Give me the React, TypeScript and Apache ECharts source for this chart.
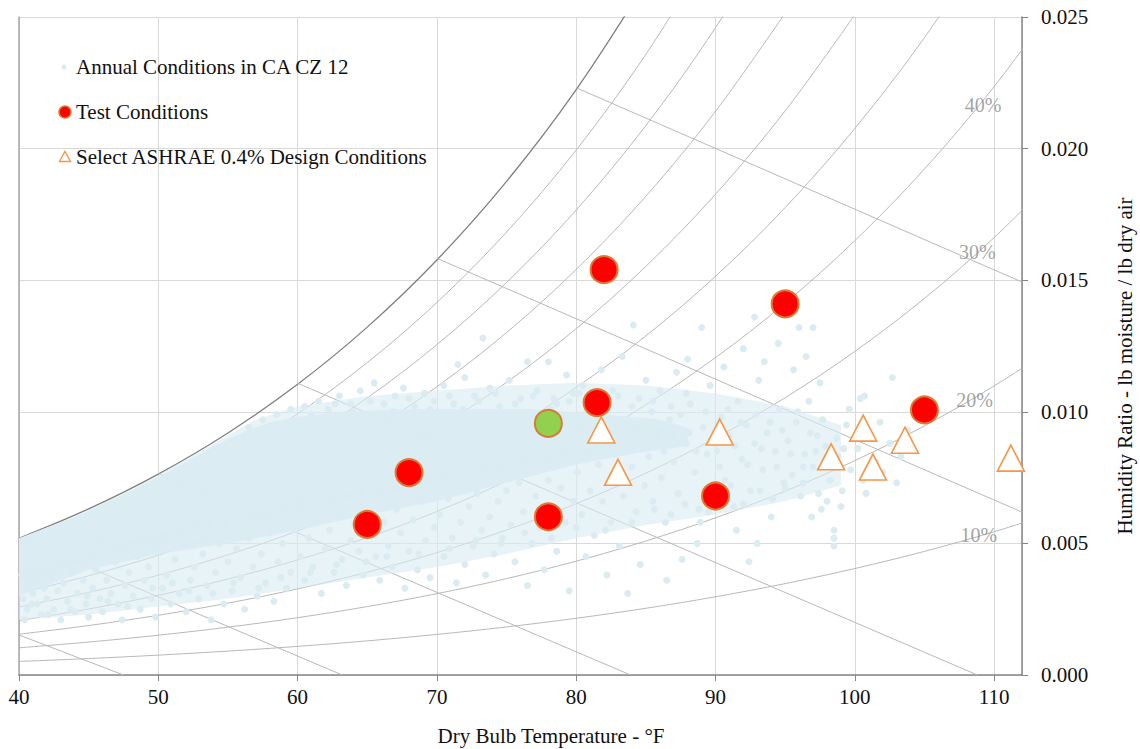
import React, { useEffect, useRef } from "react";
import * as echarts from "echarts";

// ---------- data ----------
// Saturation vapour pressure of water (psia) at standard temperatures (°F)
const TABLE_TEMPS = [40, 45, 50, 55, 60, 65, 70, 75, 80, 85, 90, 95, 100, 105, 110, 115];
const TABLE_PSAT = [0.12173, 0.14756, 0.17813, 0.21413, 0.25639, 0.30579, 0.36334, 0.43016, 0.50744, 0.59652, 0.69882, 0.81597, 0.94959, 1.1016, 1.2748, 1.4709];
const P_ATM = 14.696;
const RH_LEVELS = [10, 20, 30, 40, 50, 60, 70, 80, 90, 100];

const RH_LABEL_TEXT = ["40%", "30%", "20%", "10%"];
const RH_LABEL_POS = [[109.2, 0.02166], [108.8, 0.01607], [108.6, 0.01045], [108.9, 0.00532]];

// Wet-bulb lines (start on saturation curve, end)
const WB_LINES = [
  [[40, 0.00152], [47.5, 0]],
  [[40, 0.005216], [63.2, 0]],
  [[50, 0.007658], [83.9, 0]],
  [[60, 0.011087], [108.8, 0]],
  [[70, 0.015832], [112, 0.00619]],
  [[80, 0.022312], [112, 0.01493]],
];

// Speckled envelope of the annual hourly conditions (outline)
const ANNUAL_HALO = [
  [40, 0.0052], [42, 0.0056], [44, 0.006], [46, 0.0065], [48, 0.007], [50, 0.0076], [52, 0.0082], [54, 0.0088], [56, 0.0094], [57, 0.0097],
  [60, 0.0102], [65, 0.0106], [70, 0.0108], [75, 0.011], [80, 0.0111], [85, 0.011], [90, 0.0107], [95, 0.0102], [99, 0.0095],
  [99, 0.0072], [95, 0.0066], [90, 0.0061], [85, 0.0057], [80, 0.0052], [75, 0.0046], [70, 0.0041], [65, 0.0037],
  [60, 0.0033], [55, 0.0029], [50, 0.0026], [45, 0.0023], [40, 0.0021],
];
// Dense core of the annual hourly conditions (outline)
const ANNUAL_CORE = [
  [40, 0.0052], [42, 0.0056], [44, 0.006], [46, 0.0065], [48, 0.007], [50, 0.0075], [52, 0.0081], [54, 0.0087], [56, 0.0092], [58, 0.0096],
  [60, 0.0098], [63, 0.01], [67, 0.0101], [72, 0.0101], [77, 0.0101], [82, 0.0099], [86, 0.0097], [88, 0.0094],
  [88, 0.0087], [84, 0.0084], [80, 0.008], [75, 0.0073], [70, 0.0066], [65, 0.0061], [60, 0.0055], [55, 0.005],
  [50, 0.0046], [45, 0.004], [42, 0.0034], [40, 0.003],
];

// Annual conditions in CA CZ 12 (individual hours outside the core)
const ANNUAL_POINTS = [
  [40.2,0.0038],[40.5,0.0034],[40.3,0.0029],[40.6,0.0025],[40.4,0.0021],[41.0,0.0031],[41.3,0.0027],[41.1,0.0036],[41.6,0.0023],[41.8,0.0033],
  [42.0,0.0029],[42.3,0.0037],[42.5,0.0025],[42.8,0.0032],[43.0,0.0021],[43.2,0.0035],[43.5,0.0028],[43.8,0.0039],[44.0,0.0024],[44.2,0.0031],
  [44.6,0.0036],[44.8,0.0027],[45.0,0.0022],
  [45.3,0.0033],[45.5,0.0040],[45.8,0.0029],[46.0,0.0024],[46.3,0.0036],[46.6,0.0031],[46.9,0.0043],[47.1,0.0027],[47.4,0.0021],[47.6,0.0034],
  [47.9,0.0039],[48.2,0.0030],[48.5,0.0045],[48.7,0.0025],[49.0,0.0036],[49.3,0.0041],[49.5,0.0029],[49.8,0.0022],[50.0,0.0047],
  [50.3,0.0033],[50.6,0.0038],[50.9,0.0027],[51.2,0.0044],[51.5,0.0031],[51.8,0.0049],[52.0,0.0024],[52.3,0.0036],[52.6,0.0041],[52.9,0.0029],
  [53.2,0.0046],[53.5,0.0034],[53.8,0.0021],[54.1,0.0039],[54.4,0.0050],[54.7,0.0027],[55.0,0.0043],
  [55.3,0.0032],[55.6,0.0048],[55.9,0.0037],[56.2,0.0025],[56.5,0.0052],[56.8,0.0041],[57.1,0.0030],[57.4,0.0046],[57.7,0.0035],[58.0,0.0054],
  [58.3,0.0028],[58.6,0.0043],[58.9,0.0050],[59.2,0.0033],[59.5,0.0039],[59.8,0.0055],
  [56.5,0.0094],[57.5,0.0097],[58.5,0.0099],[59.5,0.0101],
  [60.2,0.0045],[60.5,0.0036],[60.8,0.0052],[61.1,0.0041],[61.4,0.0058],[61.7,0.0031],[62.0,0.0048],[62.3,0.0055],[62.6,0.0039],[62.9,0.0060],
  [63.2,0.0044],[63.5,0.0034],[63.8,0.0051],[64.1,0.0057],[64.4,0.0047],[64.7,0.0038],
  [60.5,0.0102],[61.5,0.0104],[62.2,0.0101],[63.0,0.0106],[63.8,0.0103],[64.5,0.0108],
  [65.0,0.0062],[65.3,0.0053],[65.6,0.0045],[65.9,0.0036],[66.2,0.0058],[66.5,0.0049],[66.8,0.0041],[67.1,0.0063],[67.4,0.0054],[67.7,0.0033],
  [68.0,0.0047],[68.3,0.0059],[68.6,0.0040],[68.9,0.0066],[69.2,0.0051],[69.5,0.0037],[69.8,0.0056],
  [65.5,0.0111],[66.2,0.0103],[67.0,0.0106],[67.6,0.0109],[68.4,0.0102],[69.1,0.0107],[69.8,0.0104],
  [70.2,0.0061],[70.5,0.0045],[70.8,0.0067],[71.1,0.0052],[71.4,0.0035],[71.7,0.0058],[72.0,0.0042],[72.3,0.0064],[72.6,0.0049],[72.9,0.0069],
  [73.2,0.0055],[73.5,0.0038],[73.8,0.0060],[74.1,0.0046],[74.4,0.0066],[74.7,0.0052],
  [70.5,0.0110],[71.2,0.0103],[72.0,0.0113],[72.7,0.0106],[73.3,0.0128],[73.8,0.0109],[74.5,0.0102],[71.5,0.0118],
  [75.0,0.0070],[75.3,0.0057],[75.6,0.0043],[75.9,0.0073],[76.2,0.0062],[76.5,0.0034],[76.8,0.0050],[77.1,0.0068],[77.4,0.0056],[77.7,0.0040],
  [78.0,0.0074],[78.3,0.0063],[78.6,0.0047],[78.9,0.0071],[79.2,0.0058],[79.5,0.0032],[79.8,0.0066],
  [75.2,0.0112],[76.0,0.0105],[76.5,0.0119],[77.2,0.0108],[78.0,0.0119],[78.6,0.0103],[79.3,0.0114],[79.8,0.0107],
  [80.1,0.0077],[80.4,0.0061],[80.7,0.0045],[81.0,0.0070],[81.3,0.0053],[81.6,0.0080],[81.9,0.0066],[82.2,0.0038],[82.5,0.0058],[82.8,0.0074],
  [83.1,0.0049],[83.4,0.0068],[83.7,0.0031],[84.0,0.0079],[84.3,0.0062],[84.6,0.0042],[84.9,0.0072],
  [80.5,0.0110],[81.0,0.0104],[81.8,0.0116],[82.6,0.0108],[83.3,0.0121],[84.1,0.0133],[84.5,0.0105],[85.0,0.0112],
  [85.2,0.0083],[85.5,0.0066],[85.8,0.0090],[86.1,0.0075],[86.4,0.0058],[86.7,0.0097],[87.0,0.0081],[87.3,0.0069],[87.6,0.0044],[87.9,0.0088],
  [88.2,0.0103],[88.5,0.0077],[88.8,0.0063],[89.1,0.0094],[89.4,0.0084],[89.7,0.0071],[86.0,0.0108],[87.2,0.0115],[88.0,0.0120],[89.0,0.0132],
  [89.6,0.0110],[86.5,0.0036],[88.7,0.0050],
  [90.1,0.0085],[90.4,0.0098],[90.7,0.0074],[91.0,0.0091],[91.3,0.0064],[91.6,0.0104],[91.9,0.0082],[92.2,0.0095],[92.5,0.0070],[92.8,0.0088],
  [93.1,0.0112],[93.4,0.0078],[93.7,0.0092],[94.0,0.0060],[94.3,0.0085],[94.6,0.0101],[94.9,0.0073],[90.6,0.0117],[92.0,0.0124],[93.5,0.0119],
  [94.5,0.0126],[91.5,0.0055],[93.0,0.0050],[92.4,0.0043],[92.8,0.0136],
  [95.2,0.0089],[95.5,0.0076],[95.8,0.0096],[96.1,0.0068],[96.4,0.0084],[96.7,0.0104],[97.0,0.0079],[97.3,0.0091],[97.6,0.0063],[97.9,0.0087],
  [98.2,0.0074],[98.5,0.0052],[98.5,0.0049],[98.5,0.0055],[98.8,0.0083],[99.1,0.0070],[99.4,0.0095],[99.7,0.0078],[95.6,0.0116],[96.5,0.0121],
  [97.5,0.0111],[96.0,0.0132],[97.0,0.0132],[96.9,0.0060],[99.0,0.0064],
  [100.2,0.0086],[100.6,0.0074],[101.0,0.0091],[101.5,0.0081],[102.0,0.0077],[102.5,0.0088],[103.0,0.0073],[103.3,0.0083],[100.8,0.0069],[101.8,0.0096],
  [103.8,0.0093],[100.4,0.0105],[102.7,0.0113],[100.7,0.0106],
  [40.8,0.0040],[41.5,0.0039],[42.6,0.0041],[43.3,0.0043],[44.3,0.0044],[45.1,0.0046],[46.1,0.0047],[47.2,0.0049],[48.0,0.0050],[49.1,0.0052],
  [50.5,0.0053],[51.4,0.0055],[52.5,0.0056],[53.6,0.0057],[54.8,0.0058],[55.8,0.0059],[57.0,0.0061],[58.1,0.0062],[59.1,0.0063],[60.3,0.0064],
  [61.5,0.0065],[62.4,0.0066],[63.6,0.0068],[64.6,0.0069],[65.8,0.0070],[67.0,0.0071],[68.2,0.0072],[69.4,0.0074],[70.6,0.0075],[72.0,0.0077],
  [73.4,0.0078],[74.8,0.0080],[76.4,0.0081],[77.8,0.0083],[79.3,0.0084],[80.8,0.0085],[82.4,0.0087],
  [78.4,0.0105],[79.0,0.0098],[80.2,0.0093],[80.9,0.0089],[81.4,0.0096],[82.0,0.0091],[82.9,0.0095],[83.5,0.0089],[84.2,0.0094],[84.8,0.0086],
  [85.4,0.0100],[85.9,0.0093],[86.3,0.0085],[86.9,0.0091],[87.5,0.0099],[88.1,0.0092],[88.6,0.0085],[89.3,0.0100],[89.8,0.0089],[90.3,0.0079],
  [90.9,0.0101],[91.4,0.0087],[91.8,0.0096],[92.3,0.0080],[92.9,0.0099],[93.3,0.0086],[93.9,0.0096],[94.4,0.0079],[94.8,0.0093],[95.4,0.0084],
  [95.9,0.0100],[96.3,0.0079],[96.8,0.0092],[97.2,0.0085],[97.7,0.0097],[98.1,0.0081],[98.7,0.0090],[99.2,0.0086],[99.6,0.0101],[90.2,0.0068],
  [91.1,0.0072],[92.0,0.0065],[93.2,0.0070],[94.1,0.0067],[95.0,0.0071],[96.3,0.0073],[97.4,0.0069],[98.0,0.0066],[85.6,0.0063],[86.8,0.0061],
  [87.8,0.0065],[88.9,0.0058],[89.5,0.0062],
  [61.0,0.0099],[62.7,0.0103],[64.0,0.0100],[65.2,0.0104],[66.8,0.0100],[68.0,0.0105],[69.5,0.0101],[70.9,0.0106],[71.9,0.0101],[73.0,0.0104],
  [74.2,0.0107],[75.6,0.0103],[76.9,0.0106],[78.2,0.0101],[79.5,0.0104],[80.2,0.0107],[82.0,0.0103],[83.0,0.0106],[84.0,0.0102],[85.5,0.0104],
  [86.8,0.0102],[87.9,0.0107],
  [40.9,0.0027],[42.1,0.0023],[43.7,0.0025],[44.9,0.0030],[46.4,0.0028],[47.8,0.0026],[49.6,0.0033],[51.0,0.0035],[52.2,0.0032],[53.9,0.0031],
  [55.4,0.0035],[57.2,0.0033],[58.8,0.0037],[60.9,0.0039],[62.8,0.0042],[64.9,0.0043],[66.4,0.0045],[68.7,0.0046],[70.9,0.0048],[72.8,0.0051],
  [74.6,0.0050],[76.3,0.0054],[78.2,0.0052],[80.0,0.0056],[82.1,0.0055],[84.0,0.0058],
];

const TEST_CONDITIONS = [[65, 0.00572], [68, 0.00769], [78, 0.00601], [81.5, 0.01035], [82, 0.0154], [90, 0.0068], [95, 0.0141], [105, 0.01007], [78, 0.00956]];
const TEST_HIGHLIGHT_INDEX = 8;
const ASHRAE_DESIGN = [[81.8, 0.00931], [83.0, 0.0077], [90.3, 0.00923], [98.3, 0.00829], [100.6, 0.00938], [101.3, 0.0079], [103.6, 0.00892], [111.2, 0.00824]];

const LEGEND_LABELS = ["Annual Conditions in CA CZ 12", "Test Conditions", "Select ASHRAE 0.4% Design Conditions"];
const X_TITLE = "Dry Bulb Temperature - °F";
const Y_TITLE = "Humidity Ratio - lb moisture / lb dry air";

// ---------- styles ----------
const FONT = "Liberation Serif";
const DOT = "#daecf2";
const ORANGE = "#f79646";
const RED_EDGE = "#d97a35";

function rhCurve(rh: number) {
  const pts: number[][] = [];
  for (let i = 0; i < TABLE_TEMPS.length; i++) {
    const pw = (rh / 100) * TABLE_PSAT[i];
    const w = (0.622 * pw) / (P_ATM - pw);
    pts.push([TABLE_TEMPS[i], w]);
    if (w > 0.025) break;
  }
  return pts;
}

export default function App() {
  const ref = useRef<HTMLDivElement>(null);
  useEffect(() => {
    if (!ref.current) return;
    const chart = echarts.init(ref.current, null, { renderer: "svg" });

    const rhSeries = RH_LEVELS.map((rh) => ({
      type: "line",
      data: rhCurve(rh),
      smooth: 0.35,
      symbol: "none",
      silent: true,
      clip: true,
      lineStyle: rh === 100 ? { color: "#7f7f7f", width: 1.3 } : { color: "#b8b8b8", width: 1 },
      z: 2,
    }));
    const wbSeries = WB_LINES.map((seg) => ({
      type: "line",
      data: seg,
      symbol: "none",
      silent: true,
      clip: true,
      lineStyle: { color: "#b8b8b8", width: 1 },
      z: 2,
    }));
    const polySeries = (pts: number[][], opacity: number) => ({
      type: "custom",
      silent: true,
      data: [pts[0]],
      renderItem: (_p: any, api: any) => ({
        type: "polygon",
        shape: { points: pts.map((p) => api.coord(p)) },
        style: { fill: DOT, opacity },
      }),
      z: 3,
    });

    const legendY = [67, 112, 157];
    const option: any = {
      animation: false,
      textStyle: { fontFamily: FONT },
      grid: { left: 19, right: 118, top: 17, bottom: 74, outerBoundsMode: "none" },
      xAxis: {
        type: "value",
        min: 40,
        max: 112,
        interval: 10,
        axisLine: { show: true, lineStyle: { color: "#868686", width: 1.5 } },
        axisTick: { show: true, length: 6, lineStyle: { color: "#868686" } },
        axisLabel: { fontSize: 21, color: "#111", margin: 11, fontFamily: FONT, showMaxLabel: false },
        splitLine: { show: true, lineStyle: { color: "#d9d9d9", width: 1 } },
      },
      yAxis: [
        {
          type: "value",
          position: "right",
          min: 0,
          max: 0.025,
          interval: 0.005,
          axisLine: { show: true, lineStyle: { color: "#868686", width: 1.5 } },
          axisTick: { show: true, length: 6, lineStyle: { color: "#868686" } },
          axisLabel: { fontSize: 21, color: "#111", margin: 19, fontFamily: FONT, formatter: (v: number) => v.toFixed(3) },
          splitLine: { show: true, lineStyle: { color: "#d9d9d9", width: 1 } },
        },
        {
          type: "value",
          position: "left",
          min: 0,
          max: 0.025,
          axisLine: { show: true, onZero: false, lineStyle: { color: "#a6a6a6", width: 1.5 } },
          axisTick: { show: false },
          axisLabel: { show: false },
          splitLine: { show: false },
        },
      ],
      series: [
        ...rhSeries,
        ...wbSeries,
        polySeries(ANNUAL_HALO, 0.62),
        polySeries(ANNUAL_CORE, 0.92),
        {
          type: "scatter",
          name: LEGEND_LABELS[0],
          data: ANNUAL_POINTS,
          symbol: "circle",
          symbolSize: 7,
          itemStyle: { color: DOT, opacity: 1 },
          silent: true,
          z: 3,
        },
        {
          type: "scatter",
          name: "rh labels",
          data: RH_LABEL_POS.map((p, i) => ({ value: p, label: { formatter: RH_LABEL_TEXT[i] } })),
          symbolSize: 1,
          itemStyle: { color: "rgba(0,0,0,0)" },
          label: { show: true, position: "inside", fontSize: 20, color: "#8c8c8c", fontFamily: FONT },
          silent: true,
          z: 4,
        },
        {
          type: "scatter",
          name: LEGEND_LABELS[1],
          data: TEST_CONDITIONS.map((p, i) =>
            i === TEST_HIGHLIGHT_INDEX ? { value: p, itemStyle: { color: "#92d050" } } : { value: p }
          ),
          symbol: "circle",
          symbolSize: 27,
          itemStyle: { color: "#ff0000", borderColor: RED_EDGE, borderWidth: 2, opacity: 1 },
          z: 5,
        },
        {
          type: "scatter",
          name: LEGEND_LABELS[2],
          data: ASHRAE_DESIGN,
          symbol: "triangle",
          symbolSize: [27, 26],
          itemStyle: { color: "#ffffff", borderColor: ORANGE, borderWidth: 1.6, opacity: 1 },
          z: 5,
        },
      ],
      graphic: [
        { type: "circle", shape: { cx: 64, cy: legendY[0], r: 2.6 }, style: { fill: DOT }, z: 10 },
        { type: "circle", shape: { cx: 65, cy: legendY[1], r: 6 }, style: { fill: "#ff0000", stroke: RED_EDGE, lineWidth: 1.5 }, z: 10 },
        { type: "polygon", shape: { points: [[65, legendY[2] - 5.5], [70.5, legendY[2] + 4.5], [59.5, legendY[2] + 4.5]] }, style: { fill: "#fff", stroke: ORANGE, lineWidth: 1.4 }, z: 10 },
        ...LEGEND_LABELS.map((t, i) => ({
          type: "text",
          x: 76,
          y: legendY[i],
          style: { text: t, font: `21px '${FONT}'`, fill: "#111", textVerticalAlign: "middle" },
          z: 10,
        })),
        {
          type: "text",
          x: 551,
          y: 736,
          style: { text: X_TITLE, font: `21px '${FONT}'`, fill: "#111", textAlign: "center", textVerticalAlign: "middle" },
        },
        {
          type: "text",
          x: 1125,
          y: 366,
          rotation: Math.PI / 2,
          style: { text: Y_TITLE, font: `21px '${FONT}'`, fill: "#111", textAlign: "center", textVerticalAlign: "middle" },
        },
      ],
    };
    chart.setOption(option);
    return () => chart.dispose();
  }, []);
  return <div ref={ref} style={{ position: "absolute", left: 0, top: 0, width: 1140, height: 749 }} />;
}
